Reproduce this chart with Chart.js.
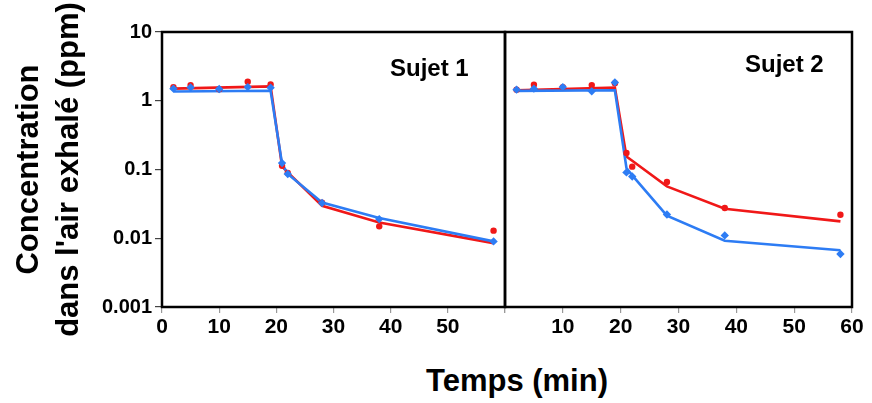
<!DOCTYPE html>
<html>
<head>
<meta charset="utf-8">
<script src="https://cdn.jsdelivr.net/npm/chart.js@4/dist/chart.umd.min.js"></script>
<style>
  html, body { margin:0; padding:0; background:#fff; }
  body { width:872px; height:403px; position:relative; overflow:hidden; font-family:"Liberation Sans", Arial, sans-serif; }
  canvas { position:absolute; top:0; }
  #cA { left:0; }
  #cB { left:503px; }
  .lbl { position:absolute; font-weight:bold; color:#000; white-space:nowrap; }
</style>
</head>
<body>
<canvas id="cA" width="507" height="345"></canvas>
<canvas id="cB" width="369" height="345"></canvas>
<div class="lbl" style="left:390px; top:56px; font-size:24px; line-height:24px;">Sujet 1</div>
<div class="lbl" style="left:745px; top:52px; font-size:24px; line-height:24px;">Sujet 2</div>
<div class="lbl" style="left:367px; width:300px; text-align:center; top:365px; font-size:31px; line-height:31px;">Temps (min)</div>
<script>
// ---- data ----
const timesPts = [2, 5, 10, 15, 19, 21, 22, 28, 38, 58];
const timesFit = [2, 19, 21, 22, 28, 38, 58];

const s1RedPts  = [1.58, 1.69, 1.47, 1.89, 1.73, 0.113, 0.089, 0.033, 0.0149, 0.0129];
const s1BluePts = [1.50, 1.56, 1.48, 1.58, 1.55, 0.124, 0.086, 0.0326, 0.019, 0.009];
const s1RedFit  = [1.50, 1.62, 0.111, 0.091, 0.0297, 0.017, 0.0085];
const s1BlueFit = [1.36, 1.40, 0.121, 0.086, 0.033, 0.0197, 0.009];

const s2RedPts  = [1.45, 1.71, 1.58, 1.69, 1.80, 0.174, 0.11, 0.0658, 0.0275, 0.022];
const s2BluePts = [1.45, 1.50, 1.58, 1.37, 1.85, 0.0908, 0.079, 0.0222, 0.011, 0.0059];
const s2RedFit  = [1.42, 1.56, 0.155, 0.134, 0.0568, 0.0269, 0.0176];
const s2BlueFit = [1.39, 1.42, 0.105, 0.082, 0.0213, 0.0092, 0.0067];

const yTickValues = [0.001, 0.01, 0.1, 1, 10];
const yTickLabels = ['0.001', '0.01', '0.1', '1', '10'];
const xTickValues = [0, 10, 20, 30, 40, 50, 60];
const xLabelsLeft  = ['0', '10', '20', '30', '40', '50', ''];
const xLabelsRight = ['', '10', '20', '30', '40', '50', '60'];
const panelTitles = ['Sujet 1', 'Sujet 2'];

const RED = '#f01818';
const BLUE = '#2d7cf4';
const FONT = '"Liberation Sans", Arial, sans-serif';

const pairs = (xs, ys) => xs.map((x, i) => ({ x: x, y: ys[i] }));

function datasets(redPts, bluePts, redFit, blueFit) {
  return [
    { label: 'rouge ajusté', data: pairs(timesFit, redFit), showLine: true, borderColor: RED, borderWidth: 2.6, pointRadius: 0, tension: 0, order: 4 },
    { label: 'bleu ajusté', data: pairs(timesFit, blueFit), showLine: true, borderColor: BLUE, borderWidth: 2.6, pointRadius: 0, tension: 0, order: 3 },
    { label: 'rouge mesuré', data: pairs(timesPts, redPts), showLine: false, backgroundColor: RED, borderColor: RED, pointStyle: 'circle', pointRadius: 3.2, borderWidth: 0, order: 2 },
    { label: 'bleu mesuré', data: pairs(timesPts, bluePts), showLine: false, backgroundColor: BLUE, borderColor: BLUE, pointStyle: 'rectRot', pointRadius: 4.2, borderWidth: 0, order: 1 }
  ];
}

const framePlugin = {
  id: 'frame',
  afterDraw(chart) {
    const { ctx, chartArea: a } = chart;
    ctx.save();
    ctx.lineWidth = 2.5;
    ctx.strokeStyle = '#000';
    ctx.strokeRect(a.left, a.top, a.right - a.left, a.bottom - a.top);
    ctx.restore();
  }
};

function xScale(labels) {
  return {
    type: 'linear', min: 0, max: 60,
    afterBuildTicks: s => { s.ticks = xTickValues.map(v => ({ value: v })); },
    afterFit: s => { s.height = 38; s.paddingLeft = 0; s.paddingRight = 0; },
    border: { display: false },
    grid: { drawOnChartArea: false, drawTicks: true, tickLength: 6, color: '#999', lineWidth: 1.2 },
    ticks: {
      autoSkip: false, maxRotation: 0, padding: 2, color: '#000',
      font: { family: FONT, size: 21, weight: 'bold' },
      callback: v => labels[xTickValues.indexOf(v)] ?? ''
    }
  };
}

function yScale(show) {
  return {
    type: 'logarithmic', min: 0.001, max: 10, display: show,
    afterBuildTicks: s => { s.ticks = yTickValues.map(v => ({ value: v })); },
    afterFit: s => { if (show) { s.width = 162; } s.paddingTop = 0; s.paddingBottom = 0; },
    border: { display: false },
    grid: { drawOnChartArea: false, drawTicks: true, tickLength: 7, color: '#444', lineWidth: 1.2 },
    ticks: {
      padding: 3, color: '#000',
      font: { family: FONT, size: 20, weight: 'bold' },
      callback: v => { const i = yTickValues.findIndex(t => Math.abs(t - v) / t < 1e-6); return i >= 0 ? yTickLabels[i] : ''; }
    },
    title: {
      display: show,
      text: ['Concentration', "dans l'air exhalé (ppm)"],
      color: '#000',
      font: { family: FONT, size: 31, weight: 'bold', lineHeight: 1.3 },
      padding: { top: 9, bottom: 0 }
    }
  };
}

function makeChart(id, ds, labels, showY, padding) {
  return new Chart(document.getElementById(id), {
    type: 'scatter',
    data: { datasets: ds },
    options: {
      responsive: false, animation: false, devicePixelRatio: 1,
      layout: { padding: padding, autoPadding: false },
      plugins: { legend: { display: false }, tooltip: { enabled: false }, title: { display: false } },
      scales: { x: xScale(labels), y: yScale(showY) },
      elements: { line: { fill: false } }
    },
    plugins: [framePlugin]
  });
}

makeChart('cA', datasets(s1RedPts, s1BluePts, s1RedFit, s1BlueFit), xLabelsLeft, true, { top: 32, right: 2, left: 0, bottom: 0 });
makeChart('cB', datasets(s2RedPts, s2BluePts, s2RedFit, s2BlueFit), xLabelsRight, false, { top: 32, right: 20, left: 2, bottom: 0 });
</script>
</body>
</html>
